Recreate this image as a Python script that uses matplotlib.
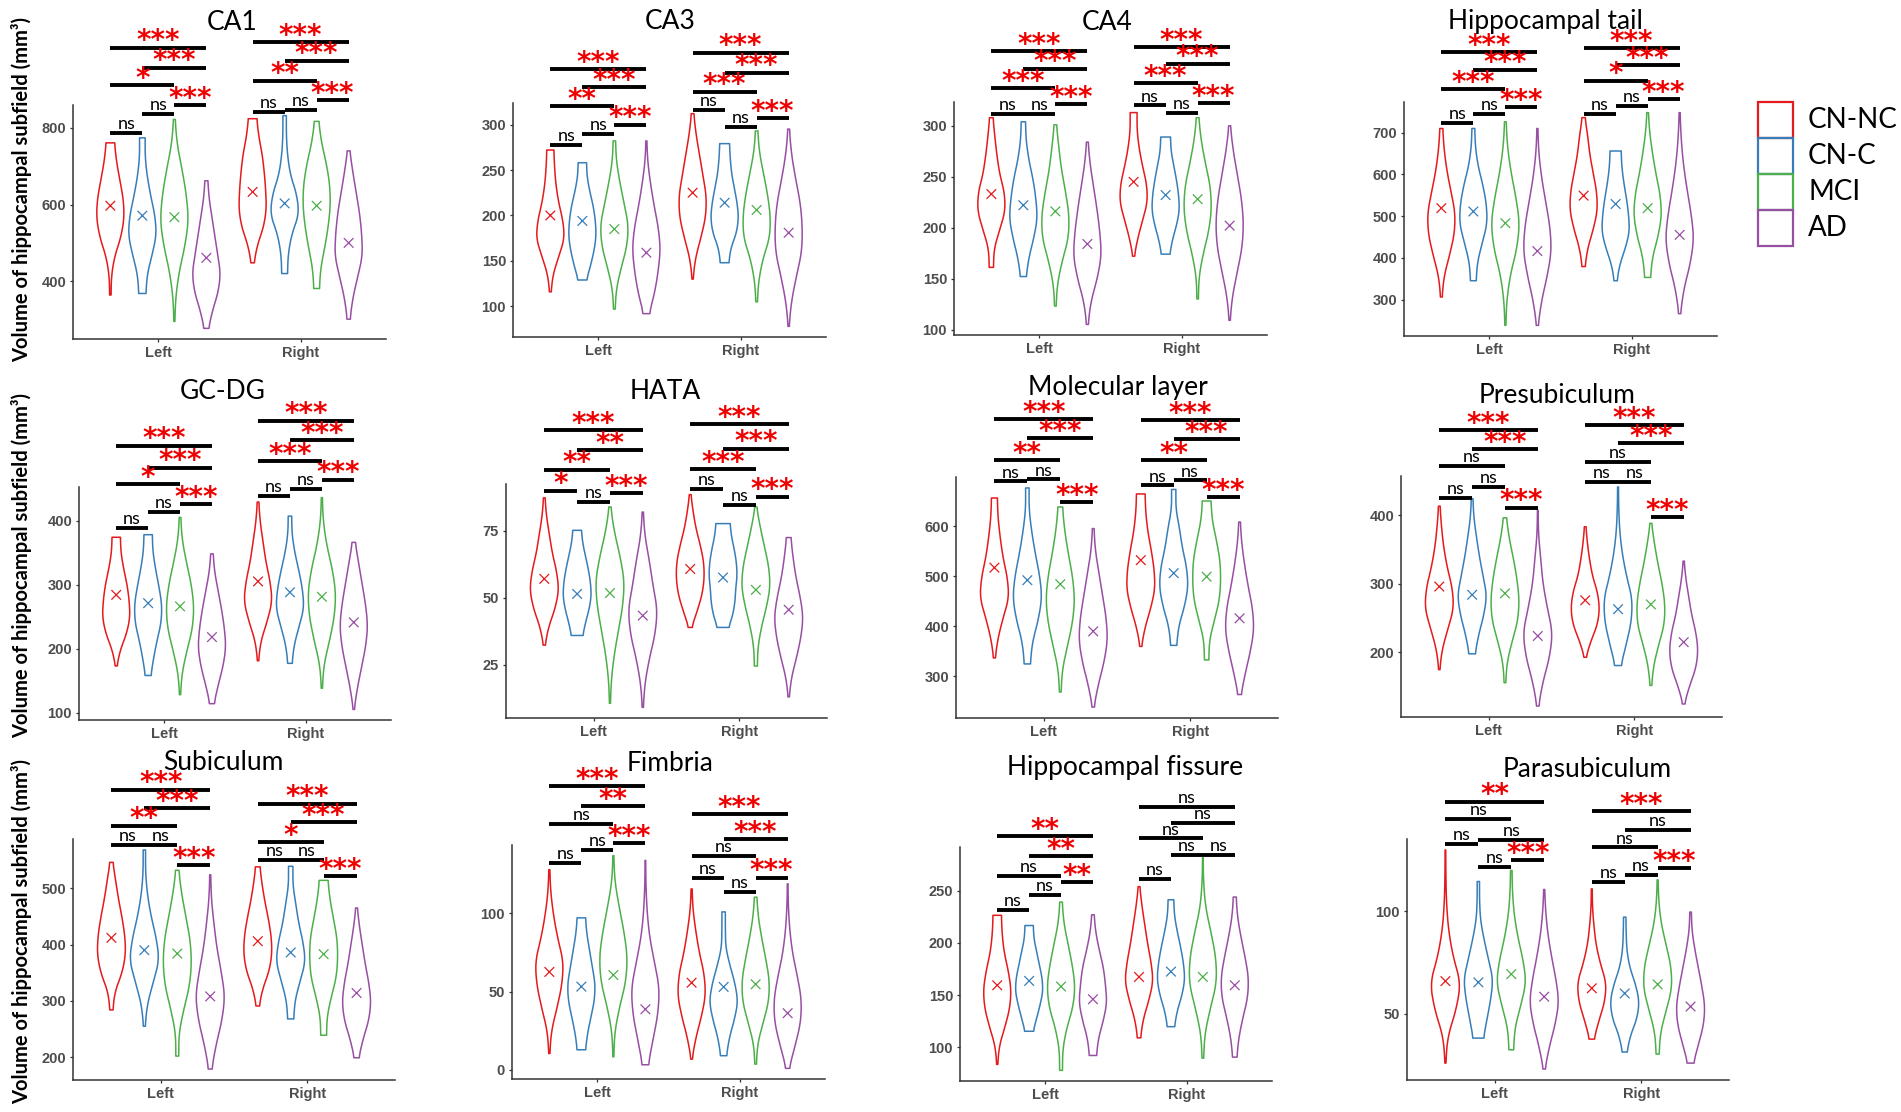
import numpy as np
import matplotlib
matplotlib.use("Agg")
import matplotlib.pyplot as plt
from matplotlib.patches import Rectangle

# ---- data -------------------------------------------------------------
titles = ["CA1", "CA3", "CA4", "Hippocampal tail",
          "GC-DG", "HATA", "Molecular layer", "Presubiculum",
          "Subiculum", "Fimbria", "Hippocampal fissure", "Parasubiculum"]
groups = ["CN-NC", "CN-C", "MCI", "AD"]
sides = ["Left", "Right"]
colors = ["#E41A1C", "#377EB8", "#4DAF4A", "#984EA3"]

# each row: Left CN-NC, CN-C, MCI, AD, then Right CN-NC, CN-C, MCI, AD
vmin = [
    [364, 368, 295, 277, 448, 420, 381, 301],
    [116, 129, 97, 92, 130, 148, 105, 78],
    [161, 152, 123, 105, 172, 174, 130, 109],
    [306, 345, 238, 238, 379, 345, 353, 266],
    [173, 158, 128, 114, 181, 177, 138, 105],
    [32.4, 36, 10.7, 9.2, 39, 39, 24.6, 13.1],
    [337, 325, 269, 239, 360, 362, 333, 264],
    [175, 198, 156, 122, 193, 181, 152, 125],
    [284, 255, 202, 179, 291, 268, 239, 199],
    [10.4, 12.8, 8.3, 3.2, 6.8, 9, 3.6, 0.9],
    [83.5, 115.3, 77.8, 92.1, 109, 119.7, 89.5, 90.5],
    [26, 38.2, 32.5, 23.1, 37.7, 31.4, 30.4, 26],
]
vmax = [
    [761, 774, 822, 662, 824, 832, 817, 740],
    [272, 258, 282, 282, 312, 279, 293, 295],
    [308, 304, 301, 284, 313, 289, 308, 300],
    [710, 710, 726, 710, 736, 656, 748, 748],
    [374, 378, 405, 348, 429, 407, 436, 366],
    [87.3, 75.2, 83.9, 82, 88.5, 77.7, 83.9, 72.5],
    [656, 676, 638, 595, 664, 673, 650, 608],
    [413, 424, 396, 407, 383, 441, 388, 333],
    [546, 568, 532, 524, 538, 539, 514, 465],
    [128, 97.2, 137, 134, 115.7, 101, 110.4, 119],
    [226.5, 216.7, 239.2, 227, 254, 241.4, 281.8, 244],
    [130, 114.6, 120, 110.7, 111, 97.2, 115.4, 99.7],
]
vmean = [
    [597, 571, 567, 461, 633, 603, 597, 500],
    [200, 194, 185, 159, 225, 214, 206, 181],
    [233, 222, 216, 184, 245, 232, 228, 202],
    [519, 511, 483, 416, 549, 529, 519, 455],
    [284, 271, 266, 218, 305, 288, 281, 241],
    [57.1, 51.5, 51.8, 43.4, 60.8, 57.6, 53, 45.6],
    [517, 492, 484, 390, 532, 506, 499, 416],
    [296, 284, 286, 224, 276, 263, 270, 215],
    [412, 390, 384, 308, 406, 386, 383, 314],
    [62.6, 53.2, 60.6, 38.7, 55.7, 53, 54.7, 36.2],
    [159.4, 163.6, 158.2, 146, 167.4, 172.5, 167.4, 159.4],
    [66, 65.4, 69.4, 58.4, 62.5, 60, 64.4, 53.6],
]

# relative violin width at 9 even levels from min (first) to max (last)
shapes = [
    [[0.05, 0.08, 0.3, 0.75, 1.0, 0.95, 0.7, 0.45, 0.3],
     [0.25, 0.35, 0.7, 1.0, 0.9, 0.6, 0.35, 0.2, 0.2],
     [0.03, 0.1, 0.35, 0.75, 1.0, 0.85, 0.55, 0.2, 0.05],
     [0.15, 0.45, 0.85, 1.0, 0.8, 0.6, 0.4, 0.2, 0.1],
     [0.1, 0.35, 0.8, 1.0, 0.95, 0.85, 0.7, 0.45, 0.3],
     [0.2, 0.25, 0.5, 1.0, 0.85, 0.4, 0.2, 0.12, 0.12],
     [0.2, 0.3, 0.6, 0.85, 1.0, 0.95, 0.7, 0.35, 0.15],
     [0.1, 0.3, 0.65, 1.0, 0.95, 0.8, 0.55, 0.3, 0.08]],
    [[0.05, 0.2, 0.6, 1.0, 0.9, 0.6, 0.4, 0.3, 0.25],
     [0.3, 0.6, 0.85, 1.0, 0.95, 0.8, 0.55, 0.35, 0.3],
     [0.05, 0.15, 0.5, 0.9, 1.0, 0.7, 0.4, 0.15, 0.08],
     [0.2, 0.6, 0.85, 1.0, 0.85, 0.55, 0.3, 0.1, 0.03],
     [0.03, 0.2, 0.6, 0.95, 1.0, 0.75, 0.5, 0.25, 0.08],
     [0.3, 0.45, 0.85, 1.0, 0.9, 0.7, 0.5, 0.4, 0.35],
     [0.05, 0.15, 0.45, 0.95, 1.0, 0.8, 0.5, 0.2, 0.08],
     [0.03, 0.2, 0.55, 0.95, 1.0, 0.85, 0.5, 0.2, 0.05]],
    [[0.15, 0.2, 0.6, 1.0, 0.95, 0.6, 0.4, 0.25, 0.12],
     [0.2, 0.4, 0.75, 1.0, 0.9, 0.7, 0.4, 0.2, 0.15],
     [0.05, 0.15, 0.5, 0.95, 1.0, 0.75, 0.45, 0.25, 0.08],
     [0.05, 0.25, 0.7, 1.0, 0.9, 0.7, 0.45, 0.2, 0.05],
     [0.05, 0.3, 0.65, 1.0, 0.95, 0.65, 0.4, 0.25, 0.25],
     [0.3, 0.5, 0.8, 1.0, 0.95, 0.8, 0.6, 0.4, 0.35],
     [0.05, 0.1, 0.4, 0.8, 1.0, 0.9, 0.55, 0.25, 0.08],
     [0.03, 0.2, 0.55, 0.9, 1.0, 0.85, 0.55, 0.25, 0.05]],
    [[0.05, 0.2, 0.6, 0.95, 1.0, 0.7, 0.4, 0.2, 0.1],
     [0.2, 0.3, 0.65, 1.0, 0.95, 0.7, 0.35, 0.15, 0.1],
     [0.03, 0.1, 0.35, 0.8, 1.0, 0.75, 0.4, 0.15, 0.05],
     [0.05, 0.3, 0.7, 1.0, 0.9, 0.6, 0.3, 0.1, 0.03],
     [0.1, 0.3, 0.7, 1.0, 0.95, 0.7, 0.45, 0.3, 0.1],
     [0.1, 0.3, 0.7, 1.0, 0.95, 0.8, 0.6, 0.45, 0.4],
     [0.2, 0.35, 0.75, 1.0, 0.9, 0.6, 0.35, 0.15, 0.05],
     [0.05, 0.3, 0.75, 1.0, 0.8, 0.5, 0.25, 0.1, 0.03]],
    [[0.05, 0.3, 0.75, 1.0, 0.95, 0.8, 0.55, 0.35, 0.3],
     [0.2, 0.4, 0.65, 0.95, 1.0, 0.8, 0.55, 0.35, 0.3],
     [0.03, 0.15, 0.5, 0.9, 1.0, 0.8, 0.45, 0.15, 0.05],
     [0.15, 0.45, 0.8, 1.0, 0.9, 0.7, 0.45, 0.2, 0.08],
     [0.03, 0.2, 0.65, 1.0, 0.85, 0.55, 0.35, 0.15, 0.05],
     [0.15, 0.3, 0.65, 1.0, 0.9, 0.65, 0.35, 0.15, 0.12],
     [0.03, 0.15, 0.55, 0.9, 1.0, 0.75, 0.35, 0.1, 0.03],
     [0.03, 0.25, 0.55, 0.85, 1.0, 0.85, 0.6, 0.35, 0.1]],
    [[0.05, 0.3, 0.75, 1.0, 0.85, 0.55, 0.35, 0.15, 0.05],
     [0.4, 0.6, 0.85, 1.0, 0.95, 0.8, 0.6, 0.4, 0.3],
     [0.03, 0.1, 0.3, 0.6, 0.9, 1.0, 0.7, 0.3, 0.05],
     [0.03, 0.15, 0.45, 0.85, 1.0, 0.7, 0.45, 0.15, 0.03],
     [0.1, 0.5, 0.85, 1.0, 0.95, 0.7, 0.4, 0.2, 0.05],
     [0.4, 0.7, 0.85, 0.9, 1.0, 0.95, 0.8, 0.6, 0.5],
     [0.1, 0.15, 0.4, 0.75, 1.0, 0.9, 0.6, 0.3, 0.05],
     [0.03, 0.2, 0.55, 0.85, 1.0, 0.8, 0.5, 0.3, 0.15]],
    [[0.05, 0.25, 0.6, 1.0, 0.9, 0.6, 0.4, 0.25, 0.2],
     [0.2, 0.35, 0.75, 1.0, 0.85, 0.55, 0.3, 0.12, 0.12],
     [0.05, 0.15, 0.5, 0.85, 1.0, 0.85, 0.55, 0.3, 0.15],
     [0.05, 0.35, 0.75, 1.0, 0.9, 0.65, 0.4, 0.15, 0.05],
     [0.05, 0.3, 0.7, 1.0, 0.95, 0.75, 0.5, 0.35, 0.3],
     [0.2, 0.35, 0.75, 1.0, 0.9, 0.6, 0.4, 0.15, 0.15],
     [0.15, 0.2, 0.55, 0.9, 1.0, 0.95, 0.7, 0.4, 0.3],
     [0.1, 0.4, 0.75, 1.0, 0.9, 0.6, 0.35, 0.15, 0.05]],
    [[0.03, 0.2, 0.6, 1.0, 0.9, 0.55, 0.3, 0.15, 0.05],
     [0.2, 0.45, 0.8, 1.0, 0.75, 0.5, 0.3, 0.12, 0.05],
     [0.05, 0.15, 0.5, 0.9, 1.0, 0.85, 0.6, 0.3, 0.1],
     [0.05, 0.35, 0.8, 1.0, 0.65, 0.35, 0.2, 0.05, 0.02],
     [0.05, 0.4, 0.85, 1.0, 0.85, 0.5, 0.3, 0.15, 0.05],
     [0.2, 0.6, 0.95, 1.0, 0.6, 0.3, 0.12, 0.05, 0.03],
     [0.05, 0.2, 0.55, 0.95, 1.0, 0.8, 0.5, 0.25, 0.05],
     [0.05, 0.4, 0.85, 1.0, 0.85, 0.55, 0.35, 0.15, 0.03]],
    [[0.1, 0.25, 0.75, 1.0, 0.95, 0.75, 0.5, 0.3, 0.1],
     [0.05, 0.2, 0.6, 1.0, 0.8, 0.45, 0.2, 0.08, 0.08],
     [0.1, 0.12, 0.45, 0.85, 1.0, 0.9, 0.6, 0.3, 0.1],
     [0.1, 0.4, 0.8, 1.0, 0.75, 0.45, 0.25, 0.08, 0.03],
     [0.1, 0.35, 0.8, 1.0, 0.95, 0.75, 0.5, 0.3, 0.15],
     [0.2, 0.3, 0.65, 1.0, 0.85, 0.55, 0.35, 0.15, 0.15],
     [0.2, 0.25, 0.55, 0.9, 1.0, 0.95, 0.7, 0.45, 0.3],
     [0.15, 0.45, 0.85, 1.0, 0.85, 0.6, 0.4, 0.2, 0.05]],
    [[0.03, 0.15, 0.55, 0.9, 1.0, 0.6, 0.3, 0.1, 0.03],
     [0.3, 0.45, 0.7, 0.95, 1.0, 0.8, 0.6, 0.4, 0.3],
     [0.03, 0.1, 0.45, 0.9, 1.0, 0.75, 0.4, 0.1, 0.03],
     [0.2, 0.55, 0.9, 1.0, 0.65, 0.3, 0.12, 0.04, 0.02],
     [0.03, 0.3, 0.7, 1.0, 0.9, 0.55, 0.3, 0.1, 0.03],
     [0.2, 0.4, 0.75, 1.0, 0.8, 0.45, 0.15, 0.12, 0.12],
     [0.05, 0.15, 0.55, 0.95, 1.0, 0.75, 0.45, 0.2, 0.08],
     [0.1, 0.55, 0.95, 1.0, 0.7, 0.35, 0.15, 0.05, 0.02]],
    [[0.03, 0.15, 0.55, 0.9, 1.0, 0.8, 0.5, 0.35, 0.3],
     [0.3, 0.55, 0.8, 1.0, 0.95, 0.75, 0.55, 0.35, 0.3],
     [0.1, 0.12, 0.4, 0.85, 1.0, 0.8, 0.5, 0.2, 0.08],
     [0.25, 0.4, 0.75, 1.0, 0.9, 0.75, 0.45, 0.2, 0.08],
     [0.1, 0.3, 0.7, 1.0, 0.85, 0.6, 0.4, 0.2, 0.05],
     [0.25, 0.45, 0.8, 1.0, 0.9, 0.7, 0.45, 0.25, 0.2],
     [0.05, 0.15, 0.55, 1.0, 0.95, 0.6, 0.2, 0.05, 0.02],
     [0.15, 0.3, 0.6, 0.95, 1.0, 0.75, 0.45, 0.2, 0.1]],
    [[0.02, 0.15, 0.7, 1.0, 0.5, 0.2, 0.07, 0.03, 0.02],
     [0.35, 0.6, 0.85, 1.0, 0.7, 0.4, 0.15, 0.08, 0.08],
     [0.15, 0.25, 0.65, 1.0, 0.8, 0.45, 0.2, 0.08, 0.05],
     [0.05, 0.35, 0.75, 1.0, 0.8, 0.5, 0.25, 0.1, 0.03],
     [0.15, 0.5, 0.9, 1.0, 0.6, 0.3, 0.15, 0.05, 0.03],
     [0.15, 0.4, 0.85, 1.0, 0.75, 0.35, 0.15, 0.1, 0.08],
     [0.1, 0.2, 0.6, 1.0, 0.95, 0.6, 0.25, 0.08, 0.03],
     [0.2, 0.55, 0.9, 1.0, 0.8, 0.55, 0.3, 0.1, 0.05]],
]

yticks = [
    [400, 600, 800], [100, 150, 200, 250, 300], [100, 150, 200, 250, 300],
    [300, 400, 500, 600, 700], [100, 200, 300, 400], [25, 50, 75],
    [300, 400, 500, 600], [200, 300, 400], [200, 300, 400, 500],
    [0, 50, 100], [100, 150, 200, 250], [50, 100],
]

# comparisons between groups (index into groups)
pairs = [(0, 1), (1, 2), (2, 3), (0, 2), (1, 3), (0, 3)]

sig_y_left = [
    [787, 836, 859, 912, 957, 1009],
    [278, 290, 300, 320, 341, 361],
    [312, 312, 321, 337, 356, 373],
    [724, 744, 761, 804, 851, 893],
    [388, 413, 426, 457, 483, 517],
    [90, 85.7, 89, 97.8, 105.2, 112.5],
    [689, 693, 648, 732, 775, 813],
    [425, 441, 411, 471, 496, 524],
    [577, 577, 541, 611, 642, 675],
    [132.3, 140.4, 145, 157, 168.5, 181.3],
    [231.9, 246.2, 258.3, 264.6, 283.4, 302.7],
    [132.8, 121.8, 125, 145, 134.8, 153.6],
]
sig_lab_left = [
    ["ns", "ns", "***", "*", "***", "***"],
    ["ns", "ns", "***", "**", "***", "***"],
    ["ns", "ns", "***", "***", "***", "***"],
    ["ns", "ns", "***", "***", "***", "***"],
    ["ns", "ns", "***", "*", "***", "***"],
    ["*", "ns", "***", "**", "**", "***"],
    ["ns", "ns", "***", "**", "***", "***"],
    ["ns", "ns", "***", "ns", "***", "***"],
    ["ns", "ns", "***", "**", "***", "***"],
    ["ns", "ns", "***", "ns", "**", "***"],
    ["ns", "ns", "**", "ns", "**", "**"],
    ["ns", "ns", "***", "ns", "ns", "**"],
]
sig_y_right = [
    [841, 848, 873, 923, 975, 1023],
    [316, 297, 307, 336, 357, 379],
    [320, 313, 322, 342, 361, 377],
    [744, 764, 781, 825, 862, 903],
    [439, 450, 464, 493, 526, 556],
    [90.7, 84.8, 87.8, 98, 105.6, 114.8],
    [681, 691, 658, 732, 773, 811],
    [448, 448, 397, 477, 505, 531],
    [551, 551, 521, 582, 617, 650],
    [122.8, 113.6, 122.8, 136.6, 147.7, 163.6],
    [261, 284.3, 284.3, 300.2, 315, 330.4],
    [114.6, 117.8, 121, 131.2, 139.6, 149],
]
sig_lab_right = [
    ["ns", "ns", "***", "**", "***", "***"],
    ["ns", "ns", "***", "***", "***", "***"],
    ["ns", "ns", "***", "***", "***", "***"],
    ["ns", "ns", "***", "*", "***", "***"],
    ["ns", "ns", "***", "***", "***", "***"],
    ["ns", "ns", "***", "***", "***", "***"],
    ["ns", "ns", "***", "**", "***", "***"],
    ["ns", "ns", "***", "ns", "***", "***"],
    ["ns", "ns", "***", "*", "***", "***"],
    ["ns", "ns", "***", "ns", "***", "***"],
    ["ns", "ns", "ns", "ns", "ns", "ns"],
    ["ns", "ns", "***", "ns", "ns", "***"],
]

# ---- layout (pixels of the 1901x1112 picture) ------------------------
W, H = 1901, 1112
panel_box = [
    (73, 105, 386, 339), (513, 103, 826, 337), (954, 102, 1267, 335), (1404, 102, 1717, 336),
    (79, 487, 391, 720), (506, 484, 827, 718), (956, 477, 1278, 718), (1401, 476, 1722, 717),
    (73, 839, 395, 1080), (512, 845, 825, 1079), (960, 847, 1272, 1081), (1407, 839, 1729, 1080),
]
title_pos = [
    (232, 30), (670, 29), (1107, 30), (1545, 29),
    (223, 399), (665, 399), (1118, 395), (1557, 403),
    (223, 770), (670, 771), (1125, 775), (1587, 777),
]
ylabel_y = [190, 565, 931]

txt_font = ["Lato", "DejaVu Sans"]
tick_font = ["Liberation Sans", "DejaVu Sans"]
offsets = np.array([-0.3375, -0.1125, 0.1125, 0.3375])


def px_rect(l, t, r, b):
    return [l / W, 1 - b / H, (r - l) / W, (b - t) / H]


def violin_outline(lo, hi, prof, n=90):
    # smooth the few width levels into an outline
    lev = np.linspace(lo, hi, len(prof))
    fine = np.linspace(lo, hi, n)
    w = np.interp(fine, lev, prof)
    k = np.ones(11) / 11
    w = np.convolve(np.pad(w, 5, mode="edge"), k, mode="valid")
    return fine, w


fig = plt.figure(figsize=(W / 100, H / 100), dpi=100)

for p in range(12):
    ax = fig.add_axes(px_rect(*panel_box[p]))
    positions = np.concatenate([1 + offsets, 2 + offsets])
    stats = []
    for k in range(8):
        c, w = violin_outline(vmin[p][k], vmax[p][k], shapes[p][k])
        stats.append(dict(coords=c, vals=w, mean=vmean[p][k], median=vmean[p][k],
                          min=vmin[p][k], max=vmax[p][k]))
    parts = ax.violin(stats, positions=positions, widths=0.19,
                      showmeans=False, showextrema=False, showmedians=False)
    for k, body in enumerate(parts["bodies"]):
        body.set_facecolor("none")
        body.set_edgecolor(colors[k % 4])
        body.set_alpha(1)
        body.set_linewidth(1.1)
    ax.scatter(positions, vmean[p], marker="x", c=colors * 2, s=48,
               linewidths=0.9, zorder=3)

    lo, hi = min(vmin[p]), max(vmax[p])
    pad = 0.05 * (hi - lo)
    ax.set_ylim(lo - pad, hi + pad)
    ax.set_xlim(0.4, 2.6)
    ax.set_yticks(yticks[p])
    ax.set_xticks([1, 2])
    ax.set_xticklabels(sides)
    for s in ["top", "right"]:
        ax.spines[s].set_visible(False)
    for s in ["left", "bottom"]:
        ax.spines[s].set_linewidth(1.1)
        ax.spines[s].set_color("#333333")
    ax.tick_params(length=2.5, width=0.9, color="#333333", labelcolor="#4D4D4D",
                   labelsize=10.5, pad=2.5)
    for lab in ax.get_xticklabels() + ax.get_yticklabels():
        lab.set_fontweight("bold")
        lab.set_family(tick_font)

    # significance brackets
    for s, (ys, labs) in enumerate([(sig_y_left[p], sig_lab_left[p]),
                                     (sig_y_right[p], sig_lab_right[p])]):
        for q, (i, j) in enumerate(pairs):
            x1, x2 = s + 1 + offsets[i], s + 1 + offsets[j]
            ax.plot([x1, x2], [ys[q], ys[q]], color="black", lw=2.8,
                    solid_capstyle="butt", clip_on=False)
            if labs[q] == "ns":
                ax.annotate("ns", xy=((x1 + x2) / 2, ys[q]), xytext=(0, 2.8),
                            textcoords="offset points", ha="center", va="baseline",
                            fontsize=13, family=txt_font, color="black",
                            annotation_clip=False)
            else:
                ax.annotate(labs[q], xy=((x1 + x2) / 2, ys[q]), xytext=(0, -1.2),
                            textcoords="offset points", ha="center", va="baseline",
                            fontsize=20, fontweight="bold", family="DejaVu Sans",
                            color="#EE0000", annotation_clip=False)

    tx, ty = title_pos[p]
    fig.text(tx / W, 1 - ty / H, titles[p], ha="center", va="baseline",
             fontsize=19, family=txt_font)

for yc in ylabel_y:
    fig.text(22 / W, 1 - yc / H, "Volume of hippocampal subfield (mm³)",
             rotation=90, ha="center", va="center", fontsize=14.5,
             fontweight="bold", family=txt_font)

# legend
for k, g in enumerate(groups):
    top = 102 + 36 * k
    fig.add_artist(Rectangle((1758 / W, 1 - (top + 36) / H), 35 / W, 36 / H,
                             transform=fig.transFigure, fill=False,
                             edgecolor=colors[k], lw=1.6))
    fig.text(1808 / W, 1 - (top + 26) / H, g, ha="left", va="baseline",
             fontsize=20, family=txt_font)

fig.savefig("out.png", dpi=100, facecolor="white")
